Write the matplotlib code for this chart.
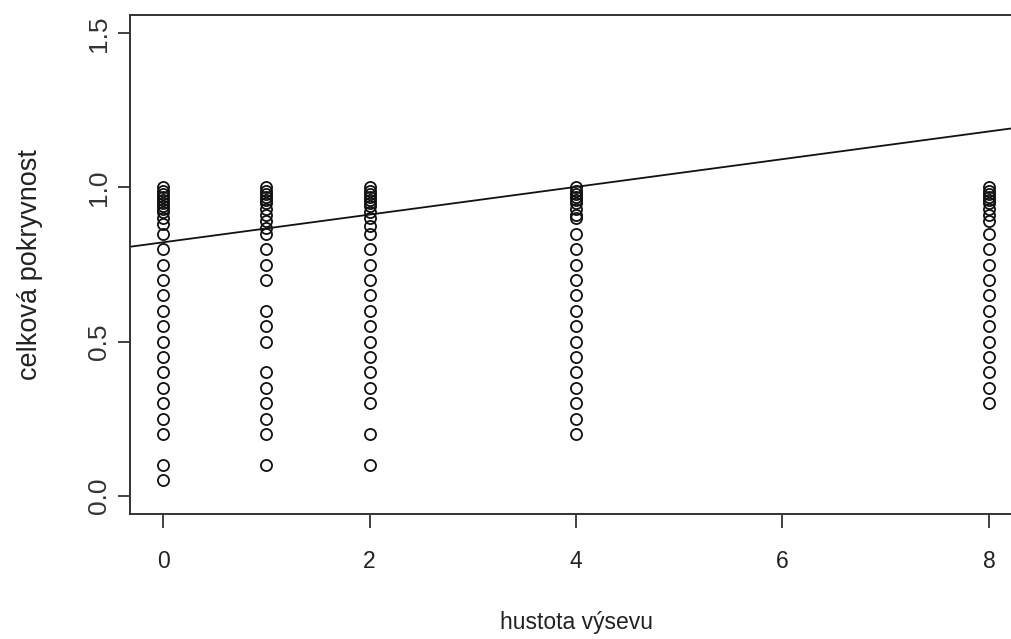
import matplotlib
matplotlib.use('Agg')
import matplotlib.pyplot as plt

# hustota vysevu groups and the measured cover in each
hustota = [0, 1, 2, 4, 8]

pokryvnost_0 = [0.05, 0.1, 0.2, 0.25, 0.3, 0.35, 0.4, 0.45, 0.5, 0.55, 0.6, 0.65,
                0.7, 0.75, 0.8, 0.85, 0.88, 0.9, 0.92, 0.93, 0.94, 0.95, 0.96,
                0.97, 0.98, 0.99, 1.0]
pokryvnost_1 = [0.1, 0.2, 0.25, 0.3, 0.35, 0.4, 0.5, 0.55, 0.6, 0.7, 0.75, 0.8,
                0.85, 0.87, 0.89, 0.91, 0.93, 0.95, 0.96, 0.97, 0.98, 0.99, 1.0]
pokryvnost_2 = [0.1, 0.2, 0.3, 0.35, 0.4, 0.45, 0.5, 0.55, 0.6, 0.65, 0.7, 0.75,
                0.8, 0.85, 0.875, 0.9, 0.92, 0.94, 0.95, 0.96, 0.97, 0.98, 0.99, 1.0]
pokryvnost_4 = [0.2, 0.25, 0.3, 0.35, 0.4, 0.45, 0.5, 0.55, 0.6, 0.65, 0.7, 0.75,
                0.8, 0.85, 0.9, 0.91, 0.93, 0.95, 0.96, 0.97, 0.98, 0.99, 1.0]
pokryvnost_8 = [0.3, 0.35, 0.4, 0.45, 0.5, 0.55, 0.6, 0.65, 0.7, 0.75, 0.8, 0.85,
                0.89, 0.91, 0.93, 0.95, 0.96, 0.97, 0.98, 0.99, 1.0]

# linear model: pokryvnost ~ hustota
intercept = 0.822
slope = 0.045

xticks = [0, 2, 4, 6, 8]
yticks = [0.0, 0.5, 1.0, 1.5]

groups = [pokryvnost_0, pokryvnost_1, pokryvnost_2, pokryvnost_4, pokryvnost_8]

font = 'Liberation Sans'

fig = plt.figure(figsize=(10.11, 6.39), dpi=100)
ax = fig.add_axes([130 / 1011, 1 - 514 / 639, 892 / 1011, 499 / 639])

for h, vals in zip(hustota, groups):
    ax.plot([h] * len(vals), vals, 'o', ms=8, mfc='none', mec='#111111', mew=1.3)

ax.axline((0, intercept), slope=slope, color='#111111', lw=1.3)

ax.set_xlim(-0.32, 8.32)
ax.set_ylim(-0.06, 1.56)

ax.set_xticks(xticks)
ax.set_xticklabels([str(t) for t in xticks], family=font, fontsize=16.5, color='#222222')
ax.set_yticks(yticks)
ax.set_yticklabels(['%.1f' % t for t in yticks], family=font, fontsize=19,
                   rotation=90, va='center', color='#333333')

ax.tick_params(axis='x', length=10, width=1.3, pad=16, color='#333333')
ax.tick_params(axis='y', length=9, width=1.3, pad=5, color='#333333')

for s in ax.spines.values():
    s.set_linewidth(1.4)
    s.set_color('#333333')

ax.set_xlabel('hustota výsevu', family=font, fontsize=16.5, color='#222222', labelpad=27)
ax.set_ylabel('celková pokryvnost', family=font, fontsize=19.5,
              color='#222222', labelpad=31)

fig.savefig('out.png', dpi=100)
